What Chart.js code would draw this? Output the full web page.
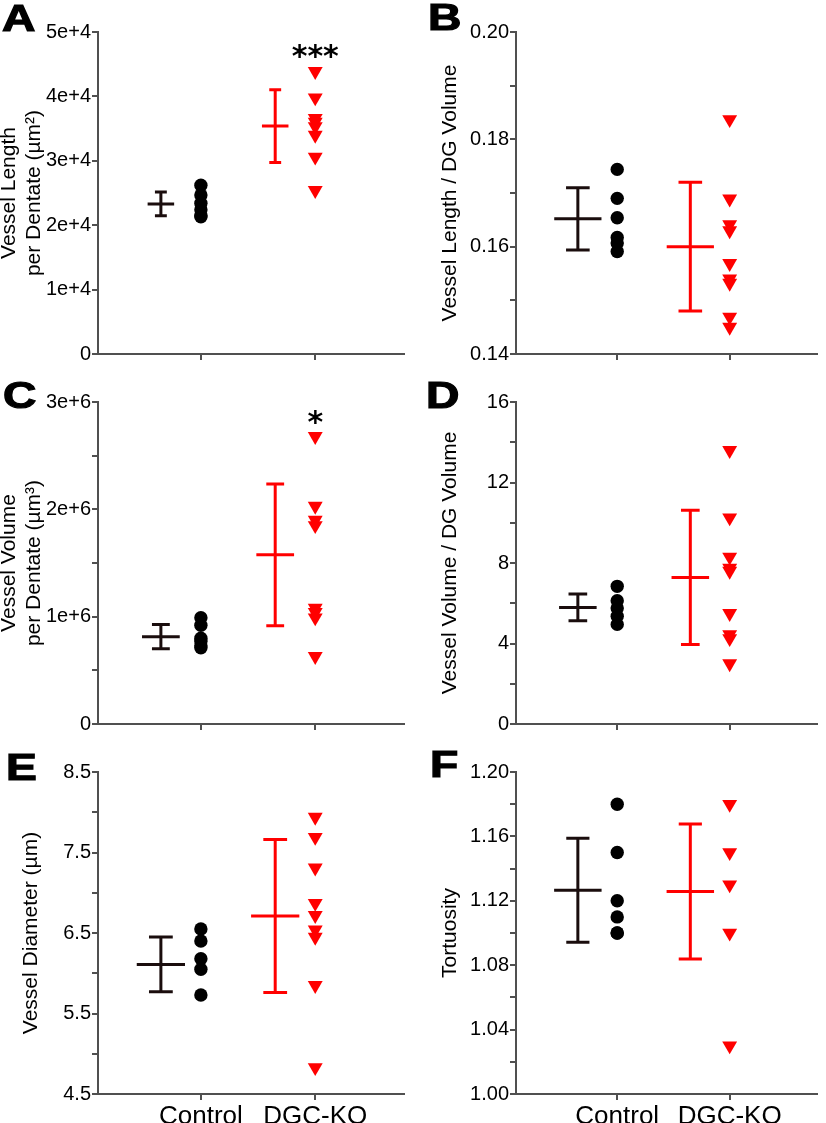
<!DOCTYPE html>
<html>
<head>
<meta charset="utf-8">
<script src="https://cdn.jsdelivr.net/npm/chart.js@4.4.1/dist/chart.umd.min.js"></script>
<style>
  body { margin: 0; background: #fff; width: 826px; height: 1123px; position: relative; overflow: hidden; }
  canvas { position: absolute; }
  .tag { position: absolute; font-family: "Liberation Sans", Arial, sans-serif; font-weight: bold; font-size: 37px; line-height: 36px;
         transform: scaleX(1.25); transform-origin: 0 0; -webkit-text-stroke: 1.2px #000; color: #000; }
</style>
</head>
<body>
<canvas id="panelA" width="413" height="370" style="left:0;top:0"></canvas>
<canvas id="panelB" width="413" height="370" style="left:413px;top:0"></canvas>
<canvas id="panelC" width="413" height="380" style="left:0;top:370px"></canvas>
<canvas id="panelD" width="413" height="380" style="left:413px;top:370px"></canvas>
<canvas id="panelE" width="413" height="373" style="left:0;top:750px"></canvas>
<canvas id="panelF" width="413" height="373" style="left:413px;top:750px"></canvas>

<div class="tag" style="left:2px;top:1px">A</div>
<div class="tag" style="left:428px;top:0px">B</div>
<div class="tag" style="left:3px;top:378px">C</div>
<div class="tag" style="left:426px;top:378px">D</div>
<div class="tag" style="left:6px;top:750px">E</div>
<div class="tag" style="left:430px;top:747px">F</div>

<script>
const groups = ['Control', 'DGC-KO']
const groupX = [1, 2]

// A: vessel length per dentate
const lengthControl = [26200, 24700, 23400, 22400, 21500, 21300]
const lengthKO = [43900, 39800, 36600, 36000, 35300, 34000, 30600, 25400]
const lengthMean = [23300, 35400]
const lengthSD = [1850, 5650]
const ticksA = [0, 10000, 20000, 30000, 40000, 50000]
const tickLabelsA = ['0', '1e+4', '2e+4', '3e+4', '4e+4', '5e+4']
const sigA = { text: '***', x: 2, y: 47000 }

// B: vessel length / DG volume
const lengthRatioControl = [0.1744, 0.1690, 0.1654, 0.1617, 0.1607, 0.1591]
const lengthRatioKO = [0.1837, 0.1689, 0.1641, 0.1630, 0.1569, 0.1540, 0.1532, 0.1469, 0.1450]
const lengthRatioMean = [0.1652, 0.1600]
const lengthRatioSD = [0.0058, 0.0120]
const ticksB = [0.14, 0.15, 0.16, 0.17, 0.18, 0.19, 0.20]
const tickLabelsB = ['0.14', '', '0.16', '', '0.18', '', '0.20']

// C: vessel volume per dentate
const volumeControl = [990000, 920000, 800000, 770000, 730000, 710000]
const volumeKO = [2680000, 2030000, 1900000, 1850000, 1080000, 1040000, 990000, 630000]
const volumeMean = [814000, 1576000]
const volumeSD = [112000, 661000]
const ticksC = [0, 500000, 1000000, 1500000, 2000000, 2500000, 3000000]
const tickLabelsC = ['0', '', '1e+6', '', '2e+6', '', '3e+6']
const sigC = { text: '*', x: 2, y: 2860000 }

// D: vessel volume / DG volume
const volumeRatioControl = [6.84, 6.13, 5.76, 5.36, 4.95]
const volumeRatioKO = [13.6, 10.25, 8.3, 7.75, 7.6, 5.5, 4.45, 4.25, 3.0]
const volumeRatioMean = [5.79, 7.28]
const volumeRatioSD = [0.665, 3.335]
const ticksD = [0, 2, 4, 6, 8, 10, 12, 14, 16]
const tickLabelsD = ['0', '', '4', '', '8', '', '12', '', '16']

// E: vessel diameter
const diameterControl = [6.55, 6.40, 6.18, 6.05, 5.73]
const diameterKO = [7.94, 7.69, 7.31, 6.87, 6.72, 6.54, 6.45, 5.85, 4.83]
const diameterMean = [6.11, 6.71]
const diameterSD = [0.34, 0.95]
const ticksE = [4.5, 5.0, 5.5, 6.0, 6.5, 7.0, 7.5, 8.0, 8.5]
const tickLabelsE = ['4.5', '', '5.5', '', '6.5', '', '7.5', '', '8.5']

// F: tortuosity
const tortuosityControl = [1.18, 1.15, 1.12, 1.11, 1.10, 1.10]
const tortuosityKO = [1.18, 1.15, 1.13, 1.10, 1.03]
const tortuosityMean = [1.1266, 1.1258]
const tortuositySD = [0.0323, 0.0419]
const ticksF = [1.00, 1.02, 1.04, 1.06, 1.08, 1.10, 1.12, 1.14, 1.16, 1.18, 1.20]
const tickLabelsF = ['1.00', '', '1.04', '', '1.08', '', '1.12', '', '1.16', '', '1.20']

const FONT = '"Liberation Sans", Arial, sans-serif'
const AXIS = '#505050'
const RED = '#ff0000'
const DARK = '#1a0d0d'
const barOffset = 0.35

const sigPlugin = {
  id: 'sig',
  afterDatasetsDraw(chart, args, opts) {
    if (!opts || !opts.text) return
    const ctx = chart.ctx
    ctx.save()
    ctx.font = 'bold 30px "DejaVu Sans"'
    ctx.fillStyle = '#000'
    ctx.textAlign = 'center'
    ctx.textBaseline = 'alphabetic'
    const m = ctx.measureText(opts.text)
    const px = chart.scales.x.getPixelForValue(opts.x)
    const py = chart.scales.y.getPixelForValue(opts.y)
    ctx.fillText(opts.text, px, py + (m.actualBoundingBoxAscent - m.actualBoundingBoxDescent) / 2)
    ctx.restore()
  }
}

function errorBar(i, mean, sd, color, cap, bar) {
  const x = groupX[i] - barOffset
  const lo = mean - sd
  const hi = mean + sd
  const segs = [
    [{ x: x, y: lo }, { x: x, y: hi }],
    [{ x: x - cap, y: hi }, { x: x + cap, y: hi }],
    [{ x: x - cap, y: lo }, { x: x + cap, y: lo }],
    [{ x: x - bar, y: mean }, { x: x + bar, y: mean }]
  ]
  return segs.map(d => ({
    data: d, showLine: true, borderColor: color, borderWidth: 3,
    pointRadius: 0, borderCapStyle: 'butt', fill: false
  }))
}

function makePanel(p) {
  const datasets = [
    ...errorBar(0, p.mean[0], p.sd[0], DARK, p.cap, p.bar),
    ...errorBar(1, p.mean[1], p.sd[1], RED, p.cap, p.bar),
    {
      data: p.control.map(v => ({ x: groupX[0], y: v })),
      pointStyle: 'circle', pointRadius: 6.7, pointBackgroundColor: '#000', pointBorderWidth: 0
    },
    {
      data: p.ko.map(v => ({ x: groupX[1], y: v })),
      pointStyle: 'triangle', pointRotation: 180, pointRadius: 8.6,
      pointBackgroundColor: RED, pointBorderWidth: 0
    }
  ]

  new Chart(document.getElementById(p.id), {
    type: 'scatter',
    data: { datasets },
    plugins: [sigPlugin],
    options: {
      responsive: false,
      animation: false,
      devicePixelRatio: 1,
      layout: { padding: { left: 0, top: p.padTop, right: p.padRight, bottom: 0 } },
      plugins: {
        legend: { display: false },
        tooltip: { enabled: false },
        sig: p.sig || {}
      },
      scales: {
        x: {
          type: 'linear', min: 0.1, max: 2.78,
          afterBuildTicks: s => { s.ticks = groupX.map(v => ({ value: v })) },
          afterFit: s => { s.height = p.xHeight },
          ticks: {
            callback: (v, i) => p.showGroups ? groups[i] : '',
            font: { family: FONT, size: 26 }, color: '#000',
            padding: 1, maxRotation: 0, autoSkip: false
          },
          grid: { drawOnChartArea: false, tickLength: 6, color: AXIS, lineWidth: 2 },
          border: { display: true, color: AXIS, width: 2 }
        },
        y: {
          min: p.ticks[0], max: p.ticks[p.ticks.length - 1],
          afterBuildTicks: s => { s.ticks = p.ticks.map(v => ({ value: v })) },
          afterFit: s => { s.width = p.yWidth },
          ticks: {
            callback: (v, i) => p.tickLabels[i],
            font: { family: FONT, size: 20 }, color: '#000', padding: 1
          },
          grid: { drawOnChartArea: false, tickLength: 6, color: AXIS, lineWidth: 2 },
          border: { display: true, color: AXIS, width: 2 },
          title: {
            display: true, text: p.title, color: '#000',
            font: { family: FONT, size: 21, lineHeight: 25 / 21 },
            padding: { top: p.titlePad, bottom: 0 }
          }
        }
      }
    }
  })
}

makePanel({
  id: 'panelA', title: ['Vessel Length', 'per Dentate (\u00b5m\u00b2)'],
  control: lengthControl, ko: lengthKO, mean: lengthMean, sd: lengthSD,
  ticks: ticksA, tickLabels: tickLabelsA, sig: sigA,
  yWidth: 98, padTop: 32, padRight: 7, xHeight: 16, titlePad: -3, cap: 0.052, bar: 0.116
})
makePanel({
  id: 'panelB', title: 'Vessel Length / DG Volume',
  control: lengthRatioControl, ko: lengthRatioKO, mean: lengthRatioMean, sd: lengthRatioSD,
  ticks: ticksB, tickLabels: tickLabelsB,
  yWidth: 103, padTop: 32, padRight: 0, xHeight: 16, titlePad: 25, cap: 0.105, bar: 0.21
})
makePanel({
  id: 'panelC', title: ['Vessel Volume', 'per Dentate (\u00b5m\u00b3)'],
  control: volumeControl, ko: volumeKO, mean: volumeMean, sd: volumeSD,
  ticks: ticksC, tickLabels: tickLabelsC, sig: sigC,
  yWidth: 98, padTop: 32, padRight: 7, xHeight: 26, titlePad: -3, cap: 0.078, bar: 0.165
})
makePanel({
  id: 'panelD', title: 'Vessel Volume / DG Volume',
  control: volumeRatioControl, ko: volumeRatioKO, mean: volumeRatioMean, sd: volumeRatioSD,
  ticks: ticksD, tickLabels: tickLabelsD,
  yWidth: 103, padTop: 32, padRight: 0, xHeight: 26, titlePad: 25, cap: 0.083, bar: 0.167
})
makePanel({
  id: 'panelE', title: 'Vessel Diameter (\u00b5m)',
  control: diameterControl, ko: diameterKO, mean: diameterMean, sd: diameterSD,
  ticks: ticksE, tickLabels: tickLabelsE, showGroups: true,
  yWidth: 98, padTop: 22, padRight: 7, xHeight: 29, titlePad: 18.5, cap: 0.104, bar: 0.211
})
makePanel({
  id: 'panelF', title: 'Tortuosity',
  control: tortuosityControl, ko: tortuosityKO, mean: tortuosityMean, sd: tortuositySD,
  ticks: ticksF, tickLabels: tickLabelsF, showGroups: true,
  yWidth: 103, padTop: 22, padRight: 0, xHeight: 29, titlePad: 24.5, cap: 0.103, bar: 0.211
})
</script>
</body>
</html>
